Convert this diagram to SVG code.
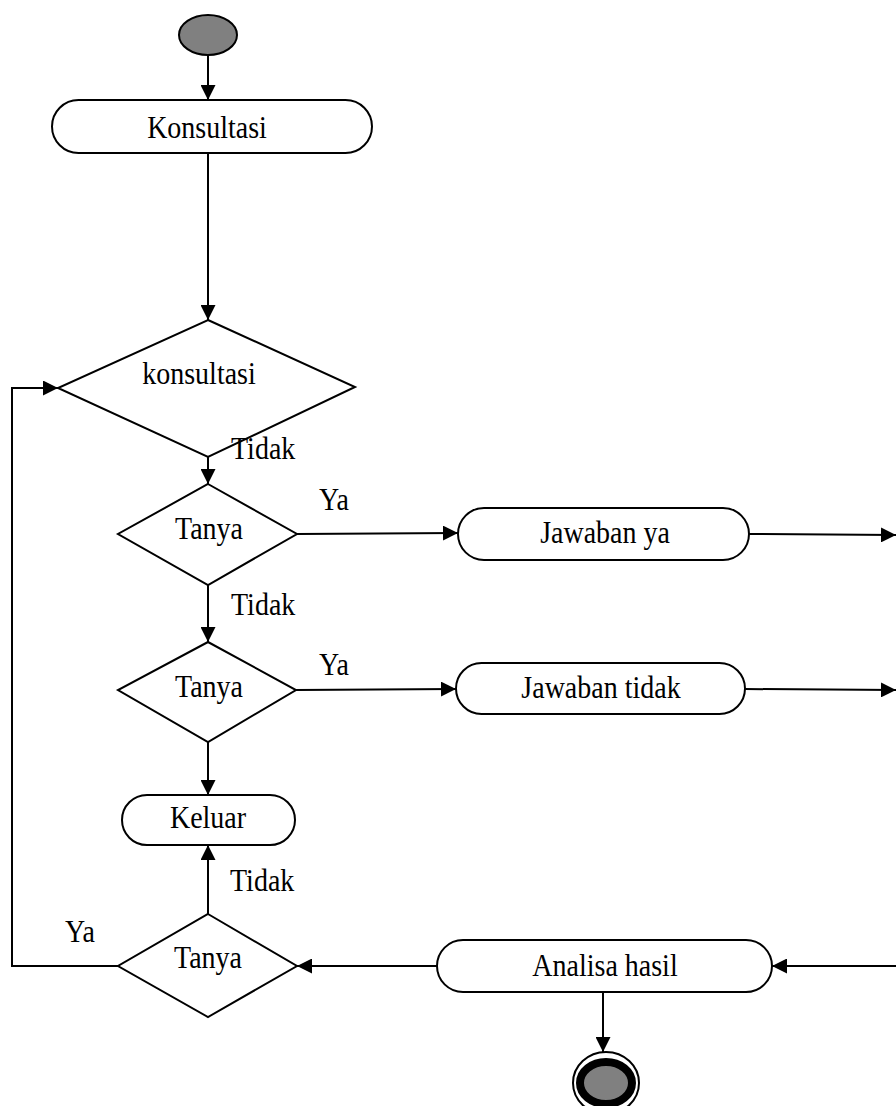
<svg xmlns="http://www.w3.org/2000/svg" width="896" height="1106" viewBox="0 0 896 1106">
<style>
.shape{fill:#fff;stroke:#000;stroke-width:2}
.conn{fill:none;stroke:#000;stroke-width:2}
text{font-family:"Liberation Serif","Times New Roman",serif;font-size:28px;fill:#000}
.c{text-anchor:middle}
</style>
<defs>
<marker id="arr" viewBox="0 0 10 10" refX="10" refY="5" markerUnits="userSpaceOnUse" markerWidth="15" markerHeight="15" orient="auto">
<path d="M0,0 L10,5 L0,10 z" fill="#000"/>
</marker>
</defs>
<rect width="896" height="1106" fill="#fff"/>
<g id="connectors">
<line class="conn" x1="208" y1="55" x2="208" y2="100" marker-end="url(#arr)"/>
<line class="conn" x1="208" y1="153" x2="208" y2="320" marker-end="url(#arr)"/>
<line class="conn" x1="208" y1="457" x2="208" y2="484" marker-end="url(#arr)"/>
<line class="conn" x1="297" y1="534" x2="458" y2="533" marker-end="url(#arr)"/>
<line class="conn" x1="749" y1="534" x2="896" y2="535" marker-end="url(#arr)"/>
<line class="conn" x1="208" y1="585" x2="208" y2="642" marker-end="url(#arr)"/>
<line class="conn" x1="296" y1="690" x2="456" y2="689" marker-end="url(#arr)"/>
<line class="conn" x1="745" y1="689" x2="896" y2="690" marker-end="url(#arr)"/>
<line class="conn" x1="208" y1="742" x2="208" y2="795" marker-end="url(#arr)"/>
<line class="conn" x1="208" y1="914" x2="208" y2="845" marker-end="url(#arr)"/>
<line class="conn" x1="437" y1="966" x2="297" y2="966" marker-end="url(#arr)"/>
<line class="conn" x1="896" y1="966" x2="772" y2="966" marker-end="url(#arr)"/>
<line class="conn" x1="603" y1="992" x2="603" y2="1052" marker-end="url(#arr)"/>
<polyline class="conn" points="118,966 12,966 12,388 58,388" marker-end="url(#arr)"/>
</g>
<g id="start"><ellipse cx="208" cy="35" rx="29" ry="20" fill="#808080" stroke="#000" stroke-width="2"/></g>
<g id="konsultasi-action"><rect class="shape" x="52" y="100" width="320" height="53" rx="26.5"/><text class="c" transform="translate(207,138) scale(1,1.15)">Konsultasi</text></g>
<g id="konsultasi-decision"><polygon class="shape" points="208,320 355,387 208,457 58,388"/><text class="c" transform="translate(199,384) scale(1,1.15)">konsultasi</text></g>
<g id="tanya1"><polygon class="shape" points="208,484 297,534 208,585 118,534"/><text class="c" transform="translate(209,539) scale(1,1.15)">Tanya</text></g>
<g id="jawaban-ya"><rect class="shape" x="458" y="508" width="291" height="52" rx="26"/><text class="c" transform="translate(605,543) scale(1,1.15)">Jawaban ya</text></g>
<g id="tanya2"><polygon class="shape" points="208,642 296,690 208,742 118,690"/><text class="c" transform="translate(209,697) scale(1,1.15)">Tanya</text></g>
<g id="jawaban-tidak"><rect class="shape" x="456" y="663" width="289" height="51" rx="25.5"/><text class="c" transform="translate(601,698) scale(1,1.15)">Jawaban tidak</text></g>
<g id="keluar"><rect class="shape" x="122" y="795" width="173" height="50" rx="25"/><text class="c" transform="translate(208,828) scale(1,1.15)">Keluar</text></g>
<g id="tanya3"><polygon class="shape" points="208,914 297,966 208,1017 118,966"/><text class="c" transform="translate(208,968) scale(1,1.15)">Tanya</text></g>
<g id="analisa-hasil"><rect class="shape" x="437" y="940" width="335" height="52" rx="26"/><text class="c" transform="translate(605,976) scale(1,1.15)">Analisa hasil</text></g>
<g id="end"><ellipse cx="606" cy="1083" rx="33" ry="31" fill="#fff" stroke="#000" stroke-width="2"/><ellipse cx="606" cy="1083" rx="26" ry="21" fill="#808080" stroke="#000" stroke-width="8"/></g>
<g id="labels">
<text transform="translate(231,459) scale(1,1.15)">Tidak</text>
<text transform="translate(319,510) scale(1,1.15)">Ya</text>
<text transform="translate(231,615) scale(1,1.15)">Tidak</text>
<text transform="translate(319,675) scale(1,1.15)">Ya</text>
<text transform="translate(230,891) scale(1,1.15)">Tidak</text>
<text transform="translate(65,942) scale(1,1.15)">Ya</text>
</g>
</svg>
